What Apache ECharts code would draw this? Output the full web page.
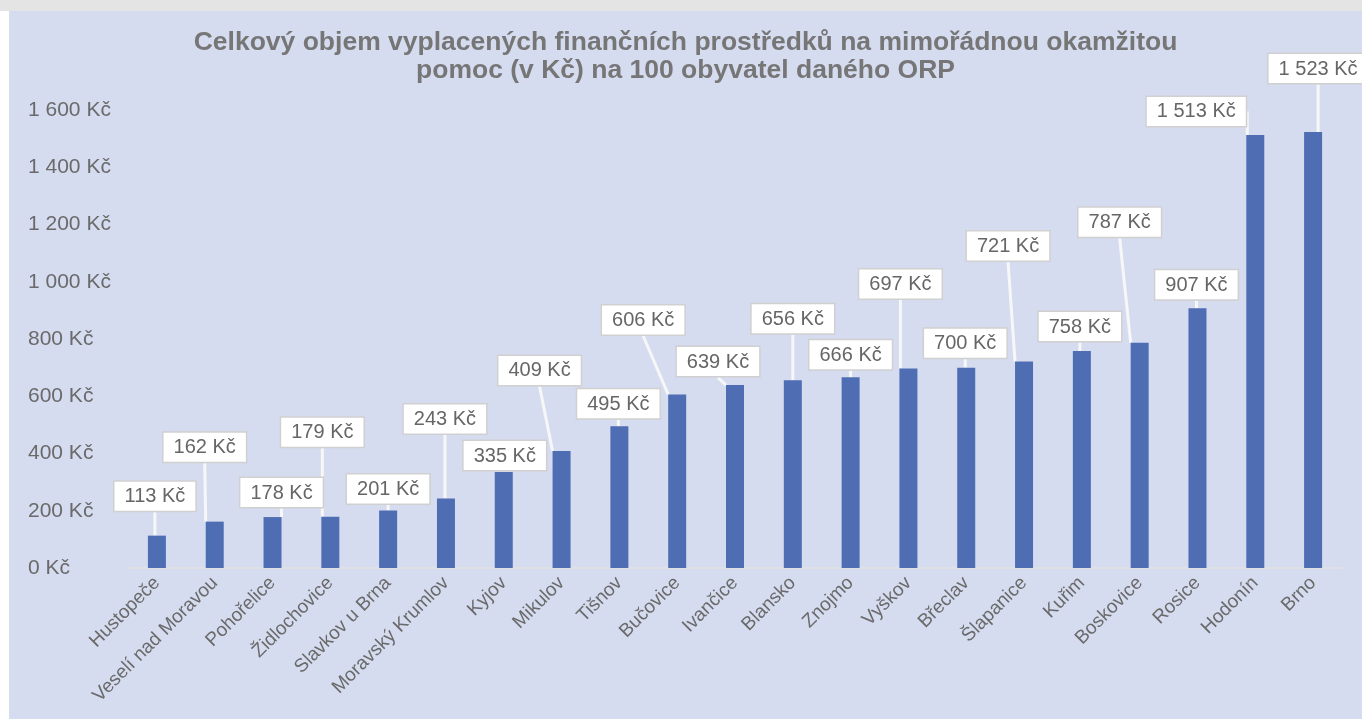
<!DOCTYPE html>
<html>
<head>
<meta charset="utf-8">
<title>Mimořádná okamžitá pomoc</title>
<script src="https://cdn.jsdelivr.net/npm/echarts@6/dist/echarts.min.js"></script>
<style>
  html, body { margin: 0; padding: 0; background: #ffffff; }
  #topband { position: absolute; left: 0; top: 0; width: 1362px; height: 11px; background: #e4e4e4; }
  #chart { position: absolute; left: 9px; top: 11px; width: 1353px; height: 708px; }
</style>
</head>
<body>
<div id="topband"></div>
<div id="chart"></div>
<script>
'use strict';

var categories = ['Hustopeče', 'Veselí nad Moravou', 'Pohořelice', 'Židlochovice', 'Slavkov u Brna',
    'Moravský Krumlov', 'Kyjov', 'Mikulov', 'Tišnov', 'Bučovice', 'Ivančice', 'Blansko', 'Znojmo',
    'Vyškov', 'Břeclav', 'Šlapanice', 'Kuřim', 'Boskovice', 'Rosice', 'Hodonín', 'Brno'];
var values = [113, 162, 178, 179, 201, 243, 335, 409, 495, 606, 639, 656, 666, 697, 700, 721, 758, 787, 907, 1513, 1523];
var yTicks = [0, 200, 400, 600, 800, 1000, 1200, 1400, 1600];

// posun popisku (callout) oproti vychozi pozici nad sloupcem
var labelDx = [-2, -10, 9, -8, 0, -1, 1, -22, -1, -34, -17, 0, 0, -8, -1, -16, -2, -20, -1, -59, 5];
var labelDy = [-20, -55, -5, -65, -2, -60, 3, -61, -3, -55, -4, -42, -3, -65, -5, -96, -5, -101, -4, -4, -44];

var formatKc = function (v) {
    return String(v).replace(/\B(?=(\d{3})+(?!\d))/g, ' ') + ' Kč';
};

var myChart = echarts.init(document.getElementById('chart'));

var option = {
    backgroundColor: '#d6dcf0',
    animation: false,
    title: {
        text: 'Celkový objem vyplacených finančních prostředků na mimořádnou okamžitou\npomoc (v Kč) na 100 obyvatel daného ORP',
        left: 'center',
        top: 13,
        textStyle: {
            fontFamily: 'Liberation Sans, Arial, sans-serif',
            fontSize: 26.5,
            fontWeight: 'bold',
            color: '#767676',
            lineHeight: 28
        }
    },
    grid: {
        left: 119,
        right: 20,
        top: 99,
        bottom: 151
    },
    xAxis: {
        type: 'category',
        data: categories,
        axisTick: { show: false },
        axisLine: { lineStyle: { color: '#e2e2e2', width: 1.5 } },
        axisLabel: {
            rotate: 45,
            interval: 0,
            margin: 12,
            fontFamily: 'Liberation Sans, Arial, sans-serif',
            fontSize: 19,
            color: '#6a6a6a'
        }
    },
    yAxis: {
        type: 'value',
        min: yTicks[0],
        max: yTicks[yTicks.length - 1],
        interval: 200,
        splitLine: { show: false },
        axisLine: { show: false },
        axisTick: { show: false },
        axisLabel: {
            align: 'left',
            margin: 100,
            fontFamily: 'Liberation Sans, Arial, sans-serif',
            fontSize: 21,
            color: '#6a6a6a',
            formatter: formatKc
        }
    },
    series: [{
        type: 'bar',
        data: values,
        barWidth: 18,
        itemStyle: { color: '#4f6db3' },
        label: {
            show: true,
            position: 'top',
            distance: 5,
            formatter: function (p) { return formatKc(p.value); },
            fontFamily: 'Liberation Sans, Arial, sans-serif',
            fontSize: 20,
            color: '#666666',
            backgroundColor: '#ffffff',
            borderColor: '#d0d0d0',
            borderWidth: 1.5,
            padding: [5, 10, 4, 10]
        },
        labelLine: {
            show: true,
            lineStyle: { color: '#f7f7f7', width: 3 }
        },
        labelLayout: function (params) {
            return {
                dx: labelDx[params.dataIndex],
                dy: labelDy[params.dataIndex]
            };
        }
    }]
};

myChart.setOption(option);
</script>
</body>
</html>
